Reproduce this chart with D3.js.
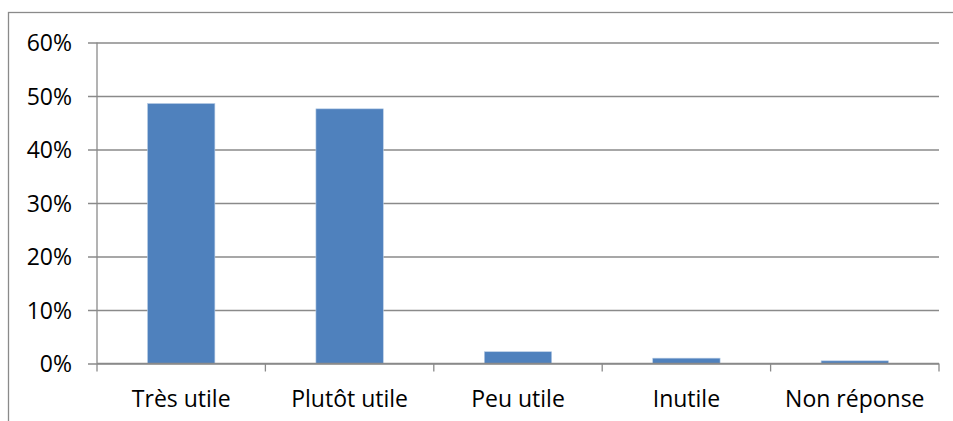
<!DOCTYPE html>
<html>

<head>
  <meta charset="utf-8">
  <script src="https://d3js.org/d3.v7.min.js"></script>
  <style>
    body { margin: 0; background: #fff; }
    text { font-family: "Open Sans", Lato, sans-serif; fill: #000; }
  </style>
</head>

<body>
  <svg id="chart" width="953" height="421"></svg>
  <script>
    // data
    const categories = ["Très utile", "Plutôt utile", "Peu utile", "Inutile", "Non réponse"];
    const values = [0.486, 0.476, 0.022, 0.010, 0.005];
    const yTicks = [0, 0.1, 0.2, 0.3, 0.4, 0.5, 0.6];

    let svg = d3.select('svg#chart');
    const margins = { top: 42.5, right: 14, bottom: 57.5, left: 97 };
    const width = +svg.attr('width');
    const height = +svg.attr('height');
    const chartWidth = width - margins.left - margins.right;
    const chartHeight = height - margins.top - margins.bottom;

    // outer frame (runs off right and bottom edges)
    svg.append('rect')
      .attr('x', 8.5).attr('y', 12.5)
      .attr('width', 960).attr('height', 430)
      .attr('fill', 'none')
      .attr('stroke', '#8a8a8a')
      .attr('stroke-width', 1.3);

    const xScale = d3.scaleBand().domain(categories).range([0, chartWidth]).paddingInner(0.6).paddingOuter(0.3);
    const yScale = d3.scaleLinear().domain([0, 0.6]).range([chartHeight, 0]);

    let chartArea = svg.append('g')
      .attr('transform', `translate(${margins.left},${margins.top})`);

    // horizontal gridlines + y axis
    let leftAxis = d3.axisLeft(yScale).tickValues(yTicks).tickFormat(d3.format('.0%'))
      .tickSize(-chartWidth).tickPadding(16);
    let yAxis = chartArea.append('g').call(leftAxis);
    yAxis.select('.domain').remove();
    yAxis.selectAll('.tick line')
      .attr('x1', -9)
      .attr('stroke', '#8a8a8a')
      .attr('stroke-width', 1.3);
    yAxis.selectAll('.tick text')
      .attr('x', -25)
      .attr('dy', '0.36em')
      .style('font-size', '23px')
      .style('font-family', '"Open Sans", Lato, sans-serif');
    chartArea.append('line')
      .attr('x1', 0).attr('x2', 0)
      .attr('y1', 0).attr('y2', chartHeight)
      .attr('stroke', '#8a8a8a')
      .attr('stroke-width', 1.3);

    // bars
    chartArea.selectAll('rect.bar').data(values)
      .join('rect')
      .attr('class', 'bar')
      .attr('x', (d, i) => xScale(categories[i]))
      .attr('y', d => yScale(d))
      .attr('width', xScale.bandwidth())
      .attr('height', d => chartHeight - yScale(d))
      .attr('fill', '#4f81bd')
      .attr('stroke', '#b9cde5')
      .attr('stroke-width', 0.6);

    // x axis with boundary ticks
    const step = chartWidth / categories.length;
    let xAxis = chartArea.append('g').attr('transform', `translate(0,${chartHeight})`);
    xAxis.append('line')
      .attr('x1', 0).attr('x2', chartWidth)
      .attr('stroke', '#8a8a8a')
      .attr('stroke-width', 1.3);
    xAxis.selectAll('line.tk').data(d3.range(categories.length + 1))
      .join('line')
      .attr('class', 'tk')
      .attr('x1', i => i * step).attr('x2', i => i * step)
      .attr('y1', 0).attr('y2', 8)
      .attr('stroke', '#8a8a8a')
      .attr('stroke-width', 1.3);
    xAxis.selectAll('text').data(categories)
      .join('text')
      .attr('x', d => xScale(d) + xScale.bandwidth() / 2)
      .attr('y', 43)
      .style('text-anchor', 'middle')
      .style('font-size', '23px')
      .text(d => d);
  </script>
</body>

</html>
